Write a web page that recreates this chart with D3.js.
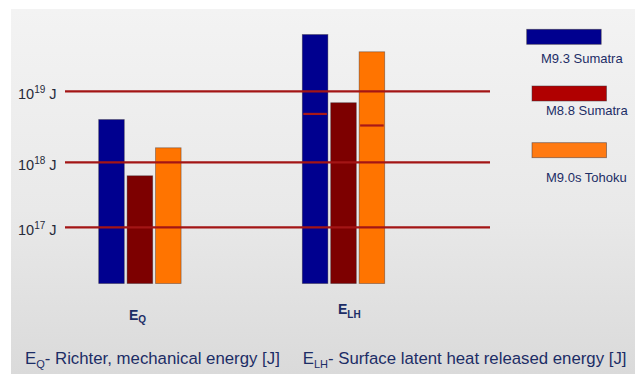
<!DOCTYPE html>
<html>
<head>
<meta charset="utf-8">
<script src="https://cdn.jsdelivr.net/npm/d3@7"></script>
<style>
  html, body { margin: 0; padding: 0; background: #fff; }
  svg { display: block; font-family: "Liberation Sans", Arial, sans-serif; }
</style>
</head>
<body>
<svg id="chart" width="635" height="374"></svg>
<script>
// Energy groups and earthquake series
const groups = ["EQ", "ELH"];
const groupSubs = ["Q", "LH"];
const series = ["M9.3 Sumatra", "M8.8 Sumatra", "M9.0s Tohoku"];

// Energies in joules, one array per earthquake: [E_Q, E_LH]
const sumatra93 = [4.0e18, 6.3e19];
const sumatra88 = [6.2e17, 6.9e18];
const tohoku90  = [1.6e18, 3.6e19];
// Inner reference marks drawn across the E_LH bars
const elhMarks = [
  { series: "M9.3 Sumatra", value: 4.8e18 },
  { series: "M9.0s Tohoku", value: 3.3e18 }
];

// Decade ticks
const tickExps = [17, 18, 19];
const tickLabels = ["17", "18", "19"];
const floorExp = 16.135;

const seriesValues = [sumatra93, sumatra88, tohoku90];
const barColors = ["#00008f", "#7d0000", "#ff7400"];
const legendColors = ["#00008f", "#b00000", "#ff7a12"];

const svg = d3.select("#chart");
const W = 635, H = 374;

// Background panel
const defs = svg.append("defs");
const grad = defs.append("linearGradient").attr("id", "bg").attr("x1", 0).attr("y1", 0).attr("x2", 0).attr("y2", 1);
grad.append("stop").attr("offset", "0%").attr("stop-color", "#f3f3f3");
grad.append("stop").attr("offset", "55%").attr("stop-color", "#e9e9e9");
grad.append("stop").attr("offset", "100%").attr("stop-color", "#dadada");
svg.append("rect").attr("x", 11).attr("y", 9).attr("width", W - 11).attr("height", H - 9).attr("fill", "url(#bg)");

// Vertical scale in log10 units; decades are piecewise to follow the tick spacing
const y = d3.scaleLinear().domain([17, 18, 19]).range([227.3, 162.3, 91.3]);
const yv = v => y(Math.log10(v));

// Horizontal scales
const x0 = d3.scalePoint().domain(groups).range([139.9, 343.5]);
const x1 = d3.scaleBand().domain(series).range([-41.2, 41.2]).paddingInner(0.1);

// Bars
const barData = [];
groups.forEach((g, gi) => {
  series.forEach((s, si) => {
    barData.push({ group: g, series: s, value: seriesValues[si][gi], color: barColors[si] });
  });
});
const base = y(floorExp);
svg.append("g").selectAll("rect").data(barData).join("rect")
  .attr("x", d => x0(d.group) + x1(d.series))
  .attr("y", d => yv(d.value))
  .attr("width", x1.bandwidth())
  .attr("height", d => base - yv(d.value))
  .attr("fill", d => d.color)
  .attr("stroke", "rgba(40,30,40,0.45)")
  .attr("stroke-width", 0.8);

// Marks inside E_LH bars
svg.append("g").selectAll("line").data(elhMarks).join("line")
  .attr("x1", d => x0("ELH") + x1(d.series) + 1)
  .attr("x2", d => x0("ELH") + x1(d.series) + x1.bandwidth() - 1)
  .attr("y1", d => yv(d.value))
  .attr("y2", d => yv(d.value))
  .attr("stroke", "#a81818")
  .attr("stroke-width", 2.2);

// Decade gridlines, drawn over the bars
svg.append("g").selectAll("line").data(tickExps).join("line")
  .attr("x1", 65).attr("x2", 490)
  .attr("y1", d => y(d)).attr("y2", d => y(d))
  .attr("stroke", "#a31515")
  .attr("stroke-width", 2.2);

// Tick labels: 10^n J
const tl = svg.append("g").selectAll("text").data(tickExps).join("text")
  .attr("x", 18)
  .attr("y", d => y(d) + 7.5)
  .attr("fill", "#262a3a")
  .style("font-size", "14.5px");
tl.append("tspan").text("10");
tl.append("tspan").attr("dy", -5.5).style("font-size", "10px").text((d, i) => tickLabels[i]);
tl.append("tspan").attr("dy", 5.5).text(" J");

// Group labels under the bars
const glab = svg.append("g").selectAll("text").data(groups).join("text")
  .attr("x", (d, i) => i === 0 ? 129 : 338)
  .attr("y", (d, i) => i === 0 ? 319.5 : 314)
  .attr("fill", "#1c2d66")
  .style("font-size", "14px")
  .style("font-weight", "bold");
glab.append("tspan").text("E");
glab.append("tspan").attr("dy", 3.5).style("font-size", "10px").text((d, i) => groupSubs[i]);

// Legend
const lg = svg.append("g");
const legRects = [[526.7, 29.3], [532, 86], [532, 142.7]];
const legTexts = [[541, 62.5], [546, 114.5], [546, 181.5]];
lg.selectAll("rect").data(series).join("rect")
  .attr("x", (d, i) => legRects[i][0])
  .attr("y", (d, i) => legRects[i][1])
  .attr("width", 74.5).attr("height", 15)
  .attr("fill", (d, i) => legendColors[i])
  .attr("stroke", "rgba(60,50,60,0.6)")
  .attr("stroke-width", 0.8);
lg.selectAll("text").data(series).join("text")
  .attr("x", (d, i) => legTexts[i][0])
  .attr("y", (d, i) => legTexts[i][1])
  .attr("fill", "#1c2d66")
  .style("font-size", "13px")
  .text(d => d);

// Footnote definitions
const notes = [
  { x: 25, sub: "Q", rest: "- Richter, mechanical energy [J]" },
  { x: 302.7, sub: "LH", rest: "- Surface latent heat released energy [J]" }
];
const nt = svg.append("g").selectAll("text").data(notes).join("text")
  .attr("x", d => d.x).attr("y", 364)
  .attr("fill", "#1c2d66")
  .style("font-size", "16.8px");
nt.append("tspan").text("E");
nt.append("tspan").attr("dy", 3.5).style("font-size", "11px").text(d => d.sub);
nt.append("tspan").attr("dy", -3.5).text(d => d.rest);
</script>
</body>
</html>
